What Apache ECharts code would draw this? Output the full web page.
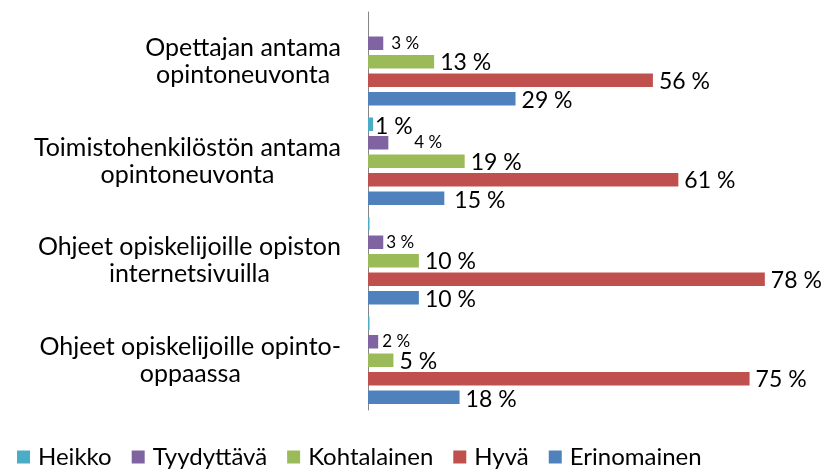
<!DOCTYPE html>
<html><head><meta charset="utf-8">
<script src="https://cdn.jsdelivr.net/npm/echarts@6/dist/echarts.min.js"></script>
<style>html,body{margin:0;padding:0;background:#fff}#c{width:827px;height:470px}</style>
</head><body><div id="c"></div>
<script>
const categories = [
  ["Opettajan antama", "opintoneuvonta"],
  ["Toimistohenkilöstön antama", "opintoneuvonta"],
  ["Ohjeet opiskelijoille opiston", "internetsivuilla"],
  ["Ohjeet opiskelijoille opinto-", "oppaassa"]
];
const seriesNames = ["Heikko", "Tyydyttävä", "Kohtalainen", "Hyvä", "Erinomainen"];
const heikko = [0, 1, 0.3, 0.3];
const tyydyttava = [3, 4, 3, 2];
const kohtalainen = [13, 19, 10, 5];
const hyva = [56, 61, 78, 75];
const erinomainen = [29, 15, 10, 18];
const colors = ["#4BACC6", "#8064A2", "#9BBB59", "#C0504D", "#4F81BD"];
const FONT = "Lato";

const chart = echarts.init(document.getElementById('c'), null, {renderer: 'canvas'});
const fmt = p => Math.round(p.value) + ' %';
const bigLabel = {show: true, position: 'right', distance: 6, fontFamily: FONT, fontSize: 23, color: '#000', formatter: fmt};
const smallLabel = {show: true, position: 'right', distance: 5, fontFamily: FONT, fontSize: 17, color: '#000', formatter: fmt};

function mk(name, idx, data, labelFn) {
  return {
    name: name, type: 'bar', barWidth: 13.5, barGap: '37%',
    itemStyle: {color: colors[idx]},
    data: data.map((v, i) => ({value: v, label: labelFn(v, i)})),
    animation: false
  };
}
const series = [
  mk(seriesNames[0], 0, heikko, (v) => v >= 1 ? Object.assign({}, bigLabel, {distance: 2, offset: [0, 2]}) : {show: false}),
  mk(seriesNames[1], 1, tyydyttava, (v, i) => {
    const l = Object.assign({}, smallLabel);
    if (i === 0) { l.distance = 8; }
    if (i === 1) { l.offset = [21, 0]; }
    if (i === 2) { l.distance = 3; }
    if (i === 3) { l.distance = 4; }
    return l;
  }),
  mk(seriesNames[2], 2, kohtalainen, () => Object.assign({}, bigLabel, {offset: [0, 1]})),
  mk(seriesNames[3], 3, hyva, () => Object.assign({}, bigLabel, {offset: [0, 1]})),
  mk(seriesNames[4], 4, erinomainen, (v, i) => Object.assign({}, bigLabel, {offset: [0, 2], distance: i === 1 ? 10 : 6}))
];

chart.setOption({
  animation: false,
  textStyle: {fontFamily: FONT},
  grid: {left: 368, right: 52, top: 12, bottom: 60, containLabel: false},
  legend: {
    top: 440, left: 12, itemWidth: 13, itemHeight: 13, itemGap: 20,
    icon: 'rect',
    textStyle: {fontFamily: FONT, fontSize: 24, color: '#000', padding: [0, 0, 0, 3]},
    data: seriesNames
  },
  xAxis: {
    type: 'value', min: 0, max: 80, show: false, splitLine: {show: false}
  },
  yAxis: {
    type: 'category', inverse: true,
    data: categories.map(c => c.join('\n')),
    axisLine: {show: true, lineStyle: {color: '#868686', width: 1}},
    axisTick: {show: false},
    axisLabel: {
      margin: 27, align: 'right',
      formatter: v => v.split('\n').map(s => '{c|' + s + '}').join('\n'),
      rich: {c: {align: 'center', fontFamily: FONT, fontSize: 25, lineHeight: 27, color: '#000'}}
    }
  },
  series: series
});
</script></body></html>
